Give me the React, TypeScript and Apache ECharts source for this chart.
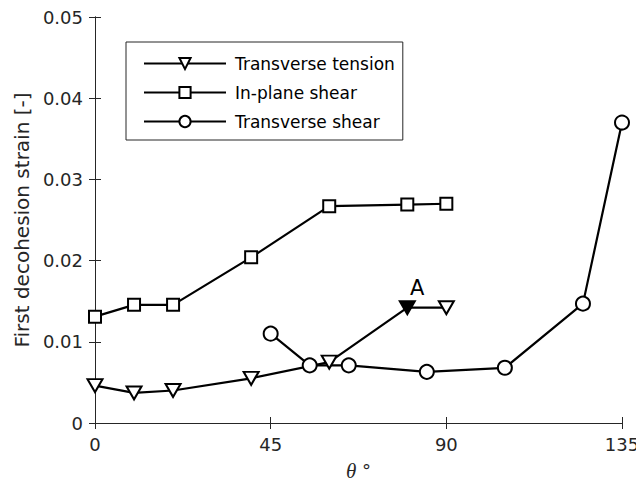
import React, { useEffect, useRef } from "react";
import * as echarts from "echarts";

const xTicks = [0, 45, 90, 135];
const tensionData: [number, number][] = [
  [0, 0.0046], [10, 0.0037], [20, 0.004], [40, 0.0055], [60, 0.0075], [80, 0.0142], [90, 0.0142],
];
const inPlaneData: [number, number][] = [
  [0, 0.0131], [10, 0.01455], [20, 0.01455], [40, 0.0204], [60, 0.0267], [80, 0.0269], [90, 0.027],
];
const transShearData: [number, number][] = [
  [45, 0.011], [55, 0.0071], [65, 0.0071], [85, 0.0063], [105, 0.0068], [125, 0.0147], [135, 0.037],
];
const highlightIndex = 5; // point "A"
const seriesNames = ["Transverse tension", "In-plane shear", "Transverse shear"];

const FONT = "DejaVu Sans, Liberation Sans, Arial, sans-serif";
const AX = "#262626";

export default function App() {
  const ref = useRef<HTMLDivElement>(null);
  useEffect(() => {
    if (!ref.current) return;
    const chart = echarts.init(ref.current, undefined, { renderer: "svg" });
    const axisCommon = {
      min: 0,
      axisLine: { show: true, lineStyle: { color: AX, width: 1 } },
      axisTick: { show: true, inside: true, length: 6, lineStyle: { color: AX } },
      splitLine: { show: false },
    };
    const lineStyle = { color: "#000", width: 2.2 };
    const itemStyle = { color: "#fff", borderColor: "#000", borderWidth: 2 };
    chart.setOption({
      animation: false,
      textStyle: { fontFamily: FONT },
      grid: { left: 95, right: 22, top: 17, bottom: 67 },
      xAxis: [
        {
          ...axisCommon,
          type: "value",
          max: xTicks[xTicks.length - 1],
          interval: 45,
          position: "bottom",
          axisLabel: { color: AX, fontSize: 18, margin: 12, fontFamily: FONT },
          name: "{i|θ} °",
          nameLocation: "middle",
          nameGap: 37,
          nameTextStyle: {
            color: AX,
            fontSize: 18,
            fontFamily: FONT,
            rich: {
              i: { fontStyle: "italic", fontSize: 21, fontFamily: "Liberation Serif, Times New Roman, serif", color: AX },
            },
          },
        },
        {
          ...axisCommon,
          type: "value",
          max: xTicks[xTicks.length - 1],
          interval: 45,
          position: "top",
          axisLabel: { show: false },
        },
      ],
      yAxis: [
        {
          ...axisCommon,
          type: "value",
          max: 0.05,
          interval: 0.01,
          position: "left",
          axisLabel: { color: AX, fontSize: 18, margin: 12, fontFamily: FONT },
          name: "First decohesion strain [-]",
          nameLocation: "middle",
          nameGap: 63,
          nameTextStyle: { color: AX, fontSize: 20, fontFamily: FONT },
        },
        {
          ...axisCommon,
          type: "value",
          max: 0.05,
          interval: 0.01,
          position: "right",
          axisLabel: { show: false },
        },
      ],
      legend: {
        orient: "vertical",
        left: 126,
        top: 42,
        padding: [13, 8, 10, 17],
        itemWidth: 82,
        itemHeight: 14,
        itemGap: 12,
        backgroundColor: "#fff",
        borderColor: AX,
        borderWidth: 1,
        borderRadius: 0,
        textStyle: { color: "#000", fontSize: 17, fontFamily: FONT, padding: [0, 0, 0, 4] },
        data: seriesNames,
      },
      series: [
        {
          name: seriesNames[0],
          type: "line",
          symbol: "triangle",
          symbolRotate: 180,
          symbolSize: [15, 13],
          lineStyle,
          itemStyle,
          z: 3,
          data: tensionData.map((d, i) =>
            i === highlightIndex
              ? {
                  value: d,
                  itemStyle: { color: "#000", borderColor: "#000" },
                  label: {
                    show: true,
                    formatter: "A",
                    position: "top",
                    distance: 2,
                    offset: [10, 0],
                    color: "#000",
                    fontSize: 21,
                    fontFamily: FONT,
                  },
                }
              : d
          ),
        },
        {
          name: seriesNames[1],
          type: "line",
          symbol: "rect",
          symbolSize: 12,
          lineStyle,
          itemStyle,
          data: inPlaneData,
        },
        {
          name: seriesNames[2],
          type: "line",
          symbol: "circle",
          symbolSize: 14,
          lineStyle,
          itemStyle,
          data: transShearData,
        },
      ],
    });
    return () => chart.dispose();
  }, []);
  return <div ref={ref} style={{ width: 644, height: 490, marginLeft: -8, marginTop: -8 }} />;
}
